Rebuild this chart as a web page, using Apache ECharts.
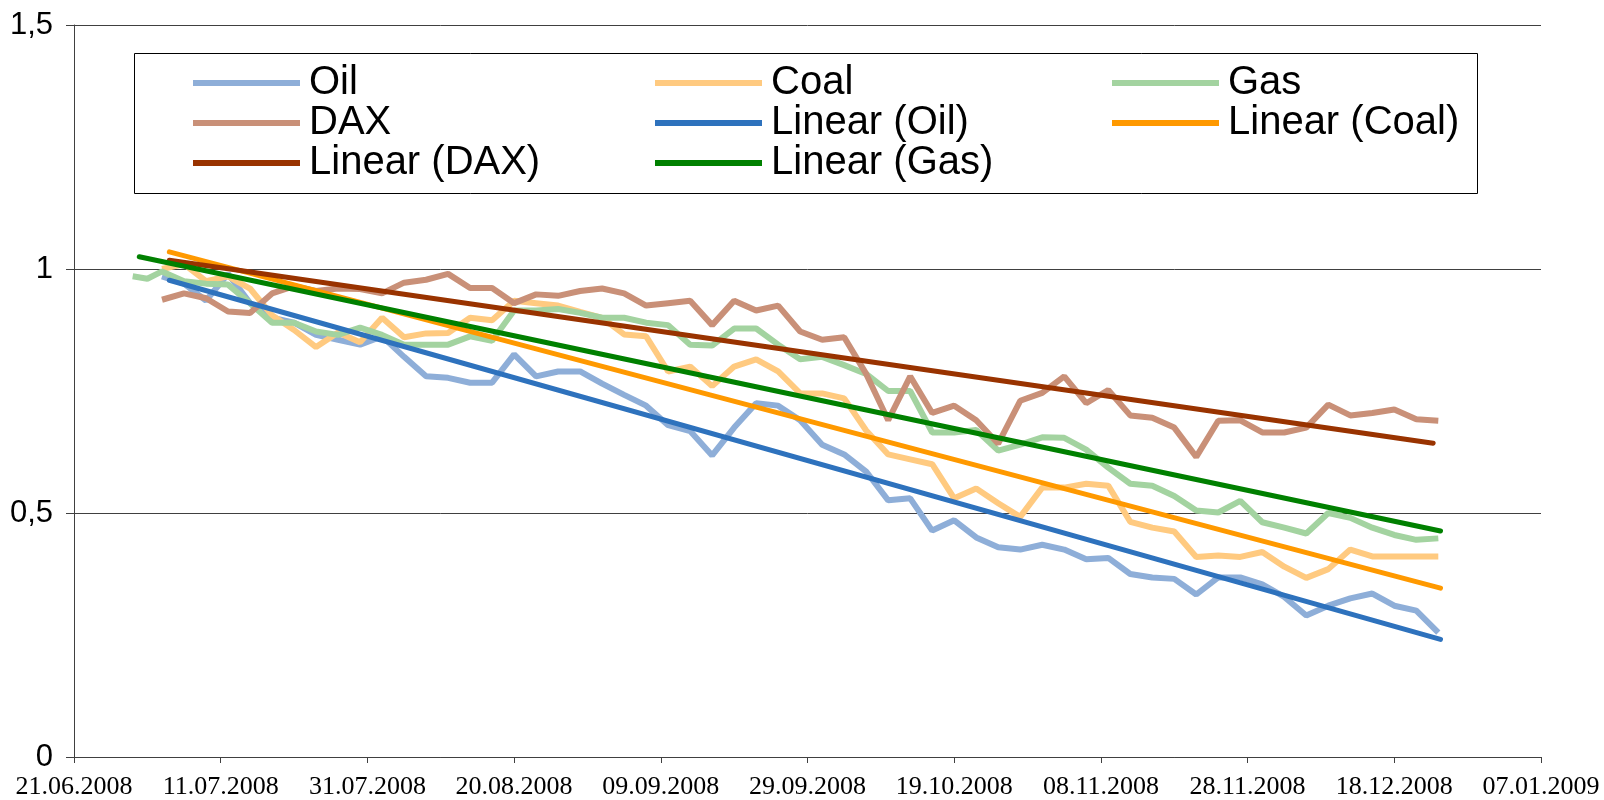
<!DOCTYPE html>
<html>
<head>
<meta charset="utf-8">
<title>Oil, Coal, Gas, DAX</title>
<script src="https://cdn.jsdelivr.net/npm/echarts@6/dist/echarts.min.js"></script>
<style>
  html, body { margin: 0; padding: 0; background: #fff; }
  #chart { width: 1604px; height: 800px; }
</style>
</head>
<body>
<div id="chart"></div>
<script>
// x values are days counted from 21.06.2008
const startDate = Date.UTC(2008, 5, 21)
const sampleDays = [8, 10, 12, 15, 18, 21, 24, 27, 30, 33, 36, 39, 42, 45, 48, 51, 54, 57, 60, 63, 66, 69,
  72, 75, 78, 81, 84, 87, 90, 93, 96, 99, 102, 105, 108, 111, 114, 117, 120, 123, 126, 129,
  132, 135, 138, 141, 144, 147, 150, 153, 156, 159, 162, 165, 168, 171, 174, 177, 180, 183, 186]

const oil = [null, null,
  0.985, 0.97, 0.935, 0.99, 0.93, 0.9, 0.89, 0.865, 0.855, 0.845,
  0.862, 0.82, 0.78, 0.777, 0.767, 0.767, 0.825, 0.78, 0.79, 0.79,
  0.765, 0.742, 0.72, 0.68, 0.668, 0.618, 0.675, 0.725, 0.72, 0.69,
  0.64, 0.62, 0.585, 0.526, 0.53, 0.464, 0.485, 0.45, 0.43, 0.425,
  0.435, 0.425, 0.405, 0.408, 0.375, 0.368, 0.365, 0.333, 0.368, 0.368,
  0.354, 0.328, 0.29, 0.31, 0.325, 0.335, 0.31, 0.3, 0.255]

const coal = [null, null,
  1.0, 1.01, 0.975, 0.985, 0.96, 0.905, 0.875, 0.84, 0.87, 0.85,
  0.9, 0.86, 0.868, 0.869, 0.9, 0.895, 0.935, 0.93, 0.925, 0.912,
  0.9, 0.866, 0.862, 0.79, 0.8, 0.76, 0.8, 0.815, 0.79, 0.745,
  0.745, 0.735, 0.669, 0.62, 0.61, 0.6, 0.53, 0.55, 0.52, 0.492,
  0.552, 0.552, 0.56, 0.556, 0.482, 0.47, 0.462, 0.41, 0.413, 0.41,
  0.42, 0.39, 0.367, 0.385, 0.425, 0.411, 0.411, 0.411, 0.411]

const gas = [0.985, 0.98,
  0.995, 0.975, 0.97, 0.968, 0.93, 0.89, 0.89, 0.872, 0.865, 0.88,
  0.865, 0.845, 0.845, 0.845, 0.862, 0.853, 0.915, 0.915, 0.918, 0.91,
  0.9, 0.9, 0.89, 0.885, 0.845, 0.843, 0.878, 0.878, 0.845, 0.815,
  0.82, 0.803, 0.785, 0.75, 0.75, 0.665, 0.665, 0.67, 0.628, 0.64,
  0.655, 0.654, 0.63, 0.593, 0.56, 0.556, 0.535, 0.505, 0.501, 0.525,
  0.481, 0.47, 0.458, 0.5, 0.49, 0.47, 0.455, 0.445, 0.448]

const dax = [null, null,
  0.937, 0.95, 0.94, 0.913, 0.91, 0.95, 0.965, 0.955, 0.96, 0.959,
  0.95, 0.972, 0.978, 0.99, 0.961, 0.961, 0.93, 0.948, 0.945, 0.955,
  0.96, 0.95, 0.925, 0.93, 0.935, 0.885, 0.935, 0.915, 0.925, 0.872,
  0.855, 0.86, 0.785, 0.69, 0.78, 0.705, 0.72, 0.69, 0.642, 0.73,
  0.746, 0.78, 0.725, 0.752, 0.7, 0.695, 0.675, 0.615, 0.689, 0.69,
  0.665, 0.665, 0.675, 0.722, 0.7, 0.705, 0.712, 0.692, 0.689]

// trend lines: [day, value] at both ends
const linOil = [[13, 0.977], [186.3, 0.241]]
const linCoal = [[13, 1.035], [186.3, 0.346]]
const linDax = [[13, 1.018], [185.3, 0.643]]
const linGas = [[8.9, 1.025], [186.3, 0.463]]

const yTicks = { min: 0, max: 1.5, step: 0.5 }
const xTicks = { min: 0, max: 200, step: 20 }

const toPairs = (vals) => sampleDays.map((d, i) => [d, vals[i]]).filter((p) => p[1] !== null)

const fmtDate = (v) => {
  const d = new Date(startDate + v * 86400000)
  const dd = String(d.getUTCDate()).padStart(2, '0')
  const mm = String(d.getUTCMonth() + 1).padStart(2, '0')
  return dd + '.' + mm + '.' + d.getUTCFullYear()
}

const chart = echarts.init(document.getElementById('chart'))

const dataLine = (name, color, vals) => ({
  name, type: 'line', data: toPairs(vals), color,
  symbol: 'none', lineStyle: { width: 6, color }, emphasis: { disabled: true }
})
const trendLine = (name, color, pts) => ({
  name, type: 'line', data: pts, color,
  symbol: 'none', lineStyle: { width: 5, color, cap: 'round' }, emphasis: { disabled: true }
})

const legendBase = {
  orient: 'vertical', top: 63, padding: 0, itemGap: 0,
  itemWidth: 107, itemHeight: 6, icon: 'rect', selectedMode: false,
  textStyle: { fontFamily: 'Liberation Sans, Arial, sans-serif', fontSize: 40, lineHeight: 38, color: '#000', padding: [0, 0, 0, 4] }
}

const option = {
  backgroundColor: '#fff',
  animation: false,
  grid: { left: 74, right: 63, top: 25, bottom: 43 },
  legend: [
    { ...legendBase, left: 193, data: ['Oil', 'DAX', 'Linear (DAX)'] },
    { ...legendBase, left: 655, data: ['Coal', 'Linear (Oil)', 'Linear (Gas)'] },
    { ...legendBase, left: 1112, data: ['Gas', 'Linear (Coal)'] }
  ],
  graphic: [{
    type: 'rect', left: 132, top: 51, z: 0,
    shape: { width: 1343, height: 140 },
    style: { fill: 'none', stroke: '#000', lineWidth: 1 }
  }],
  xAxis: {
    type: 'value', min: xTicks.min, max: xTicks.max, interval: xTicks.step,
    axisLine: { show: true, lineStyle: { color: '#404040', width: 1 } },
    axisTick: { show: true, length: 6, lineStyle: { color: '#404040' } },
    splitLine: { show: false },
    axisLabel: {
      margin: 17, color: '#000', fontSize: 26,
      fontFamily: 'Liberation Serif, Times New Roman, serif',
      formatter: fmtDate
    }
  },
  yAxis: {
    type: 'value', min: yTicks.min, max: yTicks.max, interval: yTicks.step,
    axisLine: { show: true, lineStyle: { color: '#404040', width: 1 } },
    axisTick: { show: true, length: 8, lineStyle: { color: '#404040' } },
    splitLine: { show: true, lineStyle: { color: '#404040', width: 1 } },
    axisLabel: {
      margin: 21, color: '#000', fontSize: 31,
      fontFamily: 'Liberation Sans, Arial, sans-serif',
      formatter: (v) => String(v).replace('.', ',')
    }
  },
  series: [
    dataLine('Oil', '#8eaed8', oil),
    dataLine('Coal', '#ffca80', coal),
    dataLine('Gas', '#a3d3a0', gas),
    dataLine('DAX', '#c99078', dax),
    trendLine('Linear (Oil)', '#2e72bd', linOil),
    trendLine('Linear (Coal)', '#ff9900', linCoal),
    trendLine('Linear (DAX)', '#993300', linDax),
    trendLine('Linear (Gas)', '#008000', linGas)
  ]
}

chart.setOption(option)
window.addEventListener('resize', () => chart.resize())
</script>
</body>
</html>
